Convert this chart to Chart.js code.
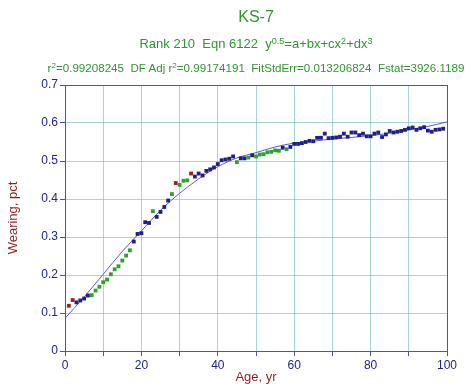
<!DOCTYPE html>
<html>
<head>
<meta charset="utf-8">
<script src="https://cdn.jsdelivr.net/npm/chart.js@4"></script>
<style>
  html, body { margin: 0; padding: 0; background: #ffffff; }
  #wrap { position: relative; width: 473px; height: 391px; font-family: "Liberation Sans", Arial, sans-serif; }
  canvas { position: absolute; left: 0; top: 0; }
  .hdr { position: absolute; left: 56px; width: 400px; text-align: center; color: #2f9630; white-space: nowrap; line-height: 1; }
  #t1 { top: 9px; font-size: 16px; }
  #t2 { top: 37px; font-size: 13px; }
  #t3 { top: 62px; font-size: 11.6px; left: 6px; width: 500px; }
  sup { font-size: 70%; vertical-align: 0; position: relative; top: -0.45em; }
</style>
</head>
<body>
<div id="wrap">
  <canvas id="c" width="473" height="391"></canvas>
  <div class="hdr" id="t1">KS-7</div>
  <div class="hdr" id="t2">Rank 210&nbsp; Eqn 6122&nbsp; y<sup>0.5</sup>=a+bx+cx<sup>2</sup>+dx<sup>3</sup></div>
  <div class="hdr" id="t3">r<sup>2</sup>=0.99208245&nbsp; DF Adj r<sup>2</sup>=0.99174191&nbsp; FitStdErr=0.013206824&nbsp; Fstat=3926.1189</div>
</div>
<script>
// ---- data ----
const ages = [1,2,3,4,5,6,7,8,9,10,11,12,13,14,15,16,17,18,19,20,21,22,23,24,25,26,27,28,29,30,
  31,32,33,34,35,36,37,38,39,40,41,42,43,44,45,46,47,48,49,50,51,52,53,54,55,56,57,58,59,60,
  61,62,63,64,65,66,67,68,69,70,71,72,73,74,75,76,77,78,79,80,81,82,83,84,85,86,87,88,89,90,
  91,92,93,94,95,96,97,98,99];
const wearing = [0.119,0.134,0.128,0.133,0.138,0.146,0.147,0.159,0.169,0.181,0.188,0.202,0.215,0.223,0.238,0.251,0.265,0.288,0.308,0.310,
  0.339,0.337,0.368,0.353,0.366,0.379,0.396,0.413,0.442,0.437,0.448,0.449,0.467,0.459,0.467,0.462,0.474,0.478,0.483,0.492,
  0.502,0.504,0.506,0.512,0.497,0.507,0.507,0.509,0.515,0.512,0.517,0.518,0.523,0.524,0.528,0.527,0.535,0.531,0.537,0.545,
  0.545,0.547,0.550,0.553,0.552,0.561,0.561,0.572,0.560,0.561,0.562,0.564,0.572,0.564,0.575,0.575,0.568,0.572,0.565,0.565,
  0.572,0.575,0.563,0.570,0.579,0.575,0.577,0.579,0.582,0.586,0.588,0.582,0.586,0.589,0.580,0.577,0.582,0.583,0.585];
// marker class per point: r = red, b = blue, g = green
const markerClass = ("rrbbbb" + "ggggggggggg" + "bbbbb" + "g" + "bbbb" + "g" + "r" + "ggg" + "r" +
  "bbbbbbbbbbb" + "g" + "bb" + "g" + "b" + "ggggggg" + "b" + "g" + "b" +
  "bbbbbbbbbbbbbbbbbbbbbbbbbbbbbbbbbbbbbbbb" + "g").split("");
const fitAges = [0,5,10,15,20,25,30,35,40,45,50,55,60,65,70,75,80,85,90,95,100];
const fitValues = [0.086,0.142,0.202,0.262,0.316,0.370,0.415,0.453,0.485,0.508,0.522,0.537,0.547,0.552,0.558,0.562,0.567,0.573,0.582,0.591,0.603];
const xTicks = [0,10,20,30,40,50,60,70,80,90,100];
const yTicks = [0,0.1,0.2,0.3,0.4,0.5,0.6,0.7];

const palette = { r: '#a31d1d', b: '#1e1e8c', g: '#32a02c' };
const axisColor = '#5252a3';
const gridColor = 'rgba(120,192,192,0.65)';
const tickColor = '#22228e';
const titleColor = '#8e1f1f';

const frame = {
  id: 'frame',
  afterDraw(chart) {
    const a = chart.chartArea, ctx = chart.ctx;
    ctx.save();
    ctx.strokeStyle = axisColor;
    ctx.lineWidth = 1;
    ctx.strokeRect(Math.round(a.left) + 0.5, Math.round(a.top) + 0.5, Math.round(a.right - a.left), Math.round(a.bottom - a.top));
    ctx.restore();
  }
};

new Chart(document.getElementById('c'), {
  type: 'scatter',
  data: {
    datasets: [
      {
        label: 'fit',
        data: fitAges.map((x, i) => ({ x, y: fitValues[i] })),
        showLine: true,
        borderColor: '#5a5ad2',
        borderWidth: 1,
        pointRadius: 0,
        cubicInterpolationMode: 'monotone',
        order: 2
      },
      {
        label: 'data',
        data: ages.map((x, i) => ({ x, y: wearing[i] })),
        pointStyle: 'rect',
        pointRadius: 2.7,
        borderWidth: 0,
        pointBackgroundColor: markerClass.map(c => palette[c]),
        pointBorderColor: markerClass.map(c => palette[c]),
        order: 1
      }
    ]
  },
  plugins: [frame],
  options: {
    responsive: false,
    animation: false,
    events: [],
    layout: { padding: { top: 85, right: 26, left: 0, bottom: 0 } },
    plugins: { legend: { display: false }, tooltip: { enabled: false } },
    scales: {
      x: {
        type: 'linear', min: 0, max: 100,
        afterBuildTicks: s => { s.ticks = xTicks.map(v => ({ value: v })); },
        afterFit: s => { s.height = 40; },
        ticks: {
          autoSkip: false, maxRotation: 0, padding: 2, color: tickColor,
          font: { family: 'Liberation Sans', size: 12 },
          callback: v => (v % 20 === 0 ? String(v) : '')
        },
        grid: { color: gridColor, tickColor: axisColor, tickLength: 5, drawOnChartArea: true },
        border: { color: axisColor, width: 1 },
        title: { display: true, text: 'Age, yr', color: titleColor, font: { family: 'Liberation Sans', size: 13 }, padding: { top: 0, bottom: 6 } }
      },
      y: {
        type: 'linear', min: 0, max: 0.7,
        afterBuildTicks: s => { s.ticks = yTicks.map(v => ({ value: v })); },
        afterFit: s => { s.width = 65; },
        ticks: {
          autoSkip: false, padding: 2, color: tickColor,
          font: { family: 'Liberation Sans', size: 12 },
          callback: v => String(Math.round(v * 10) / 10)
        },
        grid: { color: gridColor, tickColor: axisColor, tickLength: 5 },
        border: { color: axisColor, width: 1 },
        title: { display: true, text: 'Wearing, pct', color: titleColor, font: { family: 'Liberation Sans', size: 13 }, padding: { top: 6, bottom: 0 } }
      }
    }
  }
});
</script>
</body>
</html>
